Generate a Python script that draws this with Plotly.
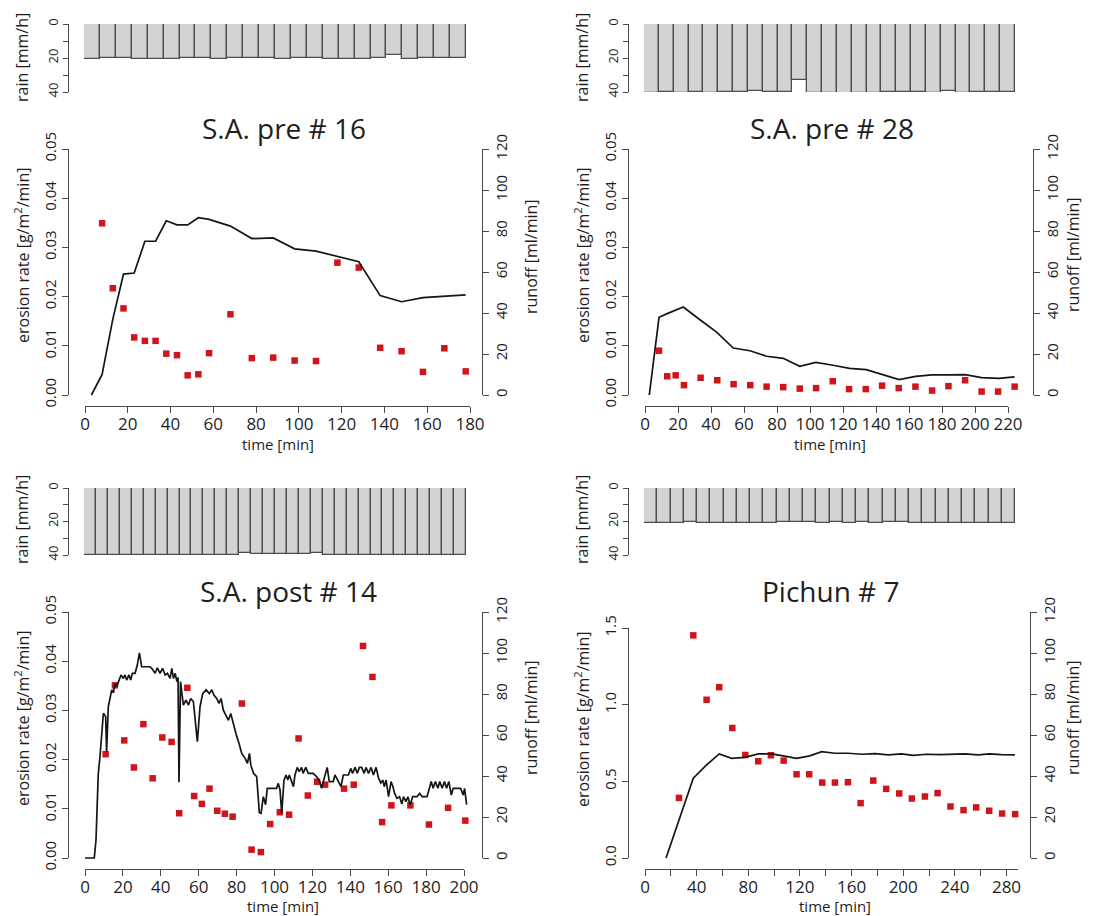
import plotly.graph_objects as go

W, H = 1097, 916

# ------------------------------------------------------------------ data
# Panel 1: S.A. pre # 16
p1_title = "S.A. pre # 16"
p1_rain = [20.4, 20.2, 20.2, 20.4, 20.4, 20.4, 20.2, 20.2, 20.4, 20.2, 20.2, 20.2,
           20.4, 20.2, 20.2, 20.4, 20.4, 20.4, 19.8, 18.2, 20.4, 20.2, 20.2, 20.2]
p1_run_t = [3, 8, 13, 18, 23, 28, 33, 38, 43, 48, 53, 58, 68, 78, 88, 98, 108, 118,
            128, 138, 148, 158, 168, 178]
p1_run = [0, 10, 37, 59, 59.5, 75, 75, 85, 83, 83, 86.5, 85.7, 82.4, 76.3, 76.6, 71.3,
          70.2, 67.5, 65, 48.5, 45.5, 47.5, 48, 48.8]
p1_ero_t = [8, 13, 18, 23, 28, 33, 38, 43, 48, 53, 58, 68, 78, 88, 98, 108, 118, 128,
            138, 148, 158, 168, 178]
p1_ero = [0.0349, 0.0217, 0.0176, 0.0117, 0.0110, 0.0110, 0.0084, 0.0081, 0.0040,
          0.0042, 0.0085, 0.0164, 0.0075, 0.0076, 0.0070, 0.0069, 0.0269, 0.0259,
          0.0096, 0.0089, 0.0047, 0.0095, 0.0048]

# Panel 2: S.A. pre # 28
p2_title = "S.A. pre # 28"
p2_rain = [40.6, 40.2, 40.4, 40.2, 40.4, 40.2, 39.8, 39.6, 40.2, 39.8, 32.9, 40.4, 40.4,
           41.2, 40.4, 40.4, 39.8, 39.8, 39.8, 40.4, 39.6, 40.6, 40.2, 40.2, 40.2]
p2_run_t = [2.6, 8.5, 13.5, 18.5, 23.2, 33.3, 43.4, 53.5, 63.6, 73.7, 83.8, 93.8, 103.5,
            114, 124, 134, 144, 154, 164, 174, 184, 194, 204, 214.5, 224]
p2_run = [0, 37.9, 39.7, 41.3, 42.9, 36.7, 30.7, 22.9, 21.6, 18.9, 17.9, 14, 15.9, 14.5,
          13, 12.4, 9.9, 7.5, 9.1, 9.8, 9.8, 9.9, 8.5, 8.1, 8.8]
p2_ero_t = [8.5, 13.5, 18.6, 23.6, 33.7, 43.8, 53.7, 63.8, 73.7, 83.8, 93.8, 103.7,
            113.8, 123.7, 133.8, 143.7, 153.8, 163.9, 174, 183.9, 194, 204, 214, 224]
p2_ero = [0.0090, 0.0038, 0.0040, 0.0020, 0.0035, 0.0030, 0.0022, 0.0020, 0.0017,
          0.0016, 0.0013, 0.0014, 0.0028, 0.0012, 0.0012, 0.0019, 0.0014, 0.0017,
          0.0009, 0.0018, 0.0030, 0.0007, 0.0007, 0.0017]

# Panel 3: S.A. post # 14
p3_title = "S.A. post # 14"
p3_rain = [40, 40, 40, 40, 40, 40, 40, 40, 40, 40, 40, 40, 40, 39, 39.4, 39.4, 39.4,
           39.4, 39.4, 38.6, 40.2, 40.2, 40.2, 40.2, 40.2, 40.2, 40.2, 39.8, 39.8, 39.8,
           39.8, 39.8]
p3_run_t = [0, 4.9, 5.8, 7, 7.9, 9.7, 10.9, 11.4, 12.3, 13.2, 14.1, 15, 15.8, 16.7, 18.1,
            19, 20.2, 21.1, 22, 23.2, 24.1, 25, 26.4, 27.6, 28.7, 29.9, 34.3, 35.2, 37,
            38.2, 39.6, 40.9, 42.3, 43.5, 44.9, 45.8, 46.7, 47.6, 48.5, 49.1, 49.6, 50.4,
            51.9, 53.3, 54.6, 55.8, 57.2, 58.1, 59.3, 60.7, 62.1, 63.9, 65.6, 66.9, 68.1,
            69.5, 70.7, 71.8, 73, 74.3, 75.7, 76.9, 78, 79.2, 80.1, 81.3, 82.7, 84.5,
            85.7, 86.8, 87.5, 88.9, 90.6, 92, 92.9, 94.1, 95.3, 96.2, 101.1, 102, 102.9,
            103.8, 105, 106.1, 107, 107.8, 109.1, 110, 110.8, 112, 113, 114.3, 115.1,
            116.5, 117.8, 120.4, 122.2, 123.9, 124.8, 125.7, 126.6, 127.8, 128.9, 131,
            131.9, 133.7, 135.1, 136.3, 139, 140.2, 141.2, 142.5, 143.7, 144.8, 146,
            147.3, 148.3, 149.6, 151, 152.2, 153.6, 154.9, 156.1, 157.2, 157.9, 158.9,
            160.2, 161.5, 162.5, 163.4, 164.6, 166, 167.2, 168.1, 169.4, 170.4, 171.6,
            172.9, 175.2, 176.6, 177.9, 180.5, 181.8, 182.7, 183.7, 184.9, 186.2, 187.2,
            188.5, 189.7, 190.8, 192, 193.3, 194.3, 198.2, 199.6, 200.3, 201.4]
p3_run = [0, 0, 8.8, 41, 49.4, 70.6, 69, 51.9, 73.8, 78.7, 82, 80.6, 85.2, 83.6, 87.6,
          89.3, 87.6, 89.3, 86.8, 89.3, 86.8, 90.1, 90.1, 94.1, 100.1, 93.3, 93.3, 92.5,
          90.1, 92.8, 90.1, 92.5, 89.3, 90.1, 87.6, 92.5, 87.6, 90.1, 86, 88, 36.9, 86,
          74.6, 77, 74.6, 77.8, 76.2, 68.9, 56.7, 73.8, 80.2, 82.1, 80.2, 82.1, 79.4,
          77.8, 75.4, 77.8, 72.1, 69.7, 67.2, 70.5, 66.4, 63.2, 59.2, 55.9, 51, 48.6,
          46.2, 51, 45.4, 41.3, 39.7, 22.1, 21.8, 29.9, 26, 34, 34, 36.4, 33.3, 21.8, 38,
          40.5, 38, 40.5, 36.4, 34.8, 40.5, 44.2, 42.1, 44.2, 41.3, 44.2, 41.3, 41.3,
          39.7, 37.3, 34, 37.3, 39.7, 44.2, 37.3, 37.3, 40.5, 37.3, 34.8, 40.5, 40.5,
          43.7, 41.3, 44.2, 41.3, 44.2, 44.2, 41.3, 44.2, 41.3, 44.2, 40.5, 44.2, 39,
          36.6, 38, 34.8, 38, 29.9, 37.3, 34.8, 31.5, 29.1, 29.9, 26.3, 29.9, 27.5, 29.9,
          25.8, 29.9, 29.9, 31.5, 29.9, 29.9, 34, 37.3, 34, 37.3, 34, 37.3, 34, 37.3, 34,
          37.3, 30.7, 34, 34, 30.7, 34, 26]
p3_ero_t = [10.9, 15.8, 20.7, 25.8, 30.8, 35.7, 40.8, 45.7, 49.7, 54, 57.6, 61.7, 65.7,
            69.8, 73.8, 77.9, 82.8, 87.9, 92.8, 97.7, 102.8, 107.7, 112.7, 117.6, 122.5,
            126.7, 136.7, 141.8, 146.7, 151.7, 156.8, 161.7, 171.7, 181.5, 191.6, 200.7]
p3_ero = [0.0211, 0.0351, 0.0239, 0.0184, 0.0272, 0.0162, 0.0245, 0.0236, 0.0091,
          0.0346, 0.0126, 0.0110, 0.0141, 0.0096, 0.0090, 0.0084, 0.0314, 0.0017,
          0.0012, 0.0069, 0.0093, 0.0088, 0.0243, 0.0127, 0.0155, 0.0149, 0.0141,
          0.0149, 0.0431, 0.0368, 0.0073, 0.0107, 0.0107, 0.0068, 0.0102, 0.0076]

# Panel 4: Pichun # 7
p4_title = "Pichun # 7"
p4_rain = [21, 21, 21, 20.2, 21, 21, 21, 21, 21, 21, 20.4, 20.4, 20.4, 21, 20.2, 21,
           20.2, 21, 20.2, 20.2, 21, 21, 21, 21, 21, 21, 21, 21]
p4_run_t = [16.3, 26.3, 37.4, 47.7, 57.5, 67.1, 77.4, 87.7, 98, 107, 117.4, 127.7,
            136.8, 147, 157.4, 167.7, 178, 188.4, 198.7, 207.7, 218, 228.4, 238.7,
            247.7, 258, 267, 276, 286.5]
p4_run = [0, 18.6, 38.9, 45.4, 50.8, 48.6, 49.1, 50.8, 50.8, 49.8, 48.6, 49.8, 51.9,
          51.1, 51.1, 50.6, 50.9, 50.3, 50.8, 50.1, 50.6, 50.4, 50.6, 50.8, 50.3, 50.8,
          50.4, 50.3]
p4_ero_t = [26.3, 37.4, 47.7, 57.5, 67.6, 77.7, 87.7, 97.5, 107.4, 117.4, 127.2, 137.3,
            147.1, 157.2, 167, 176.8, 186.8, 196.9, 206.7, 216.8, 226.6, 236.6, 246.7,
            256.5, 266.6, 276.6, 286.7]
p4_ero = [0.392, 1.452, 1.032, 1.114, 0.848, 0.672, 0.631, 0.670, 0.635, 0.546, 0.546,
          0.492, 0.492, 0.494, 0.358, 0.505, 0.451, 0.421, 0.388, 0.401, 0.423, 0.336,
          0.312, 0.330, 0.308, 0.290, 0.286]

# tick labels
ticks_ero_small = [0, 0.01, 0.02, 0.03, 0.04, 0.05]
ticks_ero_small_txt = ["0.00", "0.01", "0.02", "0.03", "0.04", "0.05"]
ticks_ero_big = [0, 0.5, 1.0, 1.5]
ticks_ero_big_txt = ["0.0", "0.5", "1.0", "1.5"]
ticks_run = [0, 20, 40, 60, 80, 100, 120]
ticks_rain = [0, 20, 40]
ticks_rain_minor = [10, 30]
ticks_time_p1 = list(range(0, 181, 20))
ticks_time_p2 = list(range(0, 221, 20))
ticks_time_p3 = list(range(0, 201, 20))
ticks_time_p4 = list(range(0, 281, 40))
ticks_time_p4_minor = list(range(20, 281, 40))

# ------------------------------------------------------------------ layout geometry (pixels)
panels = [
    dict(title=p1_title, rain=p1_rain, run_t=p1_run_t, run=p1_run, ero_t=p1_ero_t, ero=p1_ero,
         bar_x=(84, 466), rain_y=(24, 92), left=68, right=482, t0=85, tend_px=470, tend=180,
         axis_end=180, xaxis_y=406, xticks=ticks_time_p1, xminor=[],
         e0=395, etop=149, emax=0.05, eticks=ticks_ero_small, etxt=ticks_ero_small_txt,
         r0=395, rtop=149, dtop=138, dbot=404,
         title_xy=(284, 128), time_xy=(278, 444), ero_xy=(22, 256), run_xy=(531, 257),
         rain_xy=(22, 58)),
    dict(title=p2_title, rain=p2_rain, run_t=p2_run_t, run=p2_run, ero_t=p2_ero_t, ero=p2_ero,
         bar_x=(644, 1015), rain_y=(24, 92), left=628, right=1033, t0=645, tend_px=1008, tend=220,
         axis_end=220, xaxis_y=406, xticks=ticks_time_p2, xminor=[],
         e0=395, etop=149, emax=0.05, eticks=ticks_ero_small, etxt=ticks_ero_small_txt,
         r0=395, rtop=149, dtop=138, dbot=404,
         title_xy=(832, 128), time_xy=(830, 444), ero_xy=(582, 256), run_xy=(1073, 255),
         rain_xy=(582, 58)),
    dict(title=p3_title, rain=p3_rain, run_t=p3_run_t, run=p3_run, ero_t=p3_ero_t, ero=p3_ero,
         bar_x=(84, 466), rain_y=(488, 555), left=68, right=482, t0=85, tend_px=464, tend=200,
         axis_end=200, xaxis_y=869, xticks=ticks_time_p3, xminor=[],
         e0=858, etop=612, emax=0.05, eticks=ticks_ero_small, etxt=ticks_ero_small_txt,
         r0=858, rtop=612, dtop=602, dbot=866,
         title_xy=(288, 591), time_xy=(283, 906), ero_xy=(22, 719), run_xy=(531, 718),
         rain_xy=(22, 520)),
    dict(title=p4_title, rain=p4_rain, run_t=p4_run_t, run=p4_run, ero_t=p4_ero_t, ero=p4_ero,
         bar_x=(644, 1015), rain_y=(488, 555), left=628, right=1030, t0=645, tend_px=1006.5, tend=280,
         axis_end=289, xaxis_y=869, xticks=ticks_time_p4, xminor=ticks_time_p4_minor,
         e0=858, etop=628, emax=1.5, eticks=ticks_ero_big, etxt=ticks_ero_big_txt,
         r0=858, rtop=612, dtop=602, dbot=866,
         title_xy=(830, 591), time_xy=(835, 906), ero_xy=(582, 720), run_xy=(1073, 718),
         rain_xy=(582, 520)),
]

FONT = "Open Sans"
TXT = "#1e1e1e"
AX = "#4a4a4a"
RED = "#d0141c"


def xdom(a, b):
    return [a / W, b / W]


def ydom(top, bot):
    return [1 - bot / H, 1 - top / H]


fig = go.Figure()
layout = {}
annotations = []
nx = [0]
ny = [0]


def new_x(spec):
    nx[0] += 1
    spec.setdefault("automargin", False)
    name = "xaxis" if nx[0] == 1 else f"xaxis{nx[0]}"
    layout[name] = spec
    return "x" if nx[0] == 1 else f"x{nx[0]}"


def new_y(spec):
    ny[0] += 1
    spec.setdefault("automargin", False)
    name = "yaxis" if ny[0] == 1 else f"yaxis{ny[0]}"
    layout[name] = spec
    return "y" if ny[0] == 1 else f"y{ny[0]}"


def axis_common():
    return dict(showline=True, linecolor=AX, linewidth=1.2, ticks="outside", ticklen=6,
                tickwidth=1.2, tickcolor=AX, showgrid=False, zeroline=False,
                fixedrange=True)


def ann(text, xy, size, angle=0):
    annotations.append(dict(text=text, x=xy[0] / W, y=1 - xy[1] / H, xref="paper",
                            yref="paper", xanchor="center", yanchor="middle",
                            showarrow=False, textangle=angle,
                            font=dict(family=FONT, size=size, color=TXT)))


for p in panels:
    # ---- rain bars
    n = len(p["rain"])
    xr = new_x(dict(domain=xdom(*p["bar_x"]), range=[-0.5, n - 0.5], visible=False,
                    anchor="free", position=0))
    yr_spec = axis_common()
    yr_spec.update(domain=ydom(*p["rain_y"]), range=[40, 0], anchor="free",
                   position=p["left"] / W, tickvals=ticks_rain,
                   ticktext=[str(v) for v in ticks_rain], tickangle=-90, ticklen=5,
                   minor=dict(tickvals=ticks_rain_minor, ticks="outside", ticklen=5,
                              tickwidth=1.2, tickcolor=AX, showgrid=False),
                   tickfont=dict(family=FONT, size=13, color=TXT))
    yr = new_y(yr_spec)
    fig.add_trace(go.Bar(x=list(range(n)), y=p["rain"], width=1, xaxis=xr, yaxis=yr,
                         marker=dict(color="#d3d3d3", line=dict(color="#4d4d4d", width=1.3)),
                         cliponaxis=False, showlegend=False, hoverinfo="skip"))

    # ---- hidden data axes
    s = (p["tend_px"] - p["t0"]) / p["tend"]
    xd = new_x(dict(domain=xdom(p["left"], p["right"]),
                    range=[(p["left"] - p["t0"]) / s, (p["right"] - p["t0"]) / s],
                    visible=False, anchor="free", position=0))
    es = (p["e0"] - p["etop"]) / p["emax"]
    yde = new_y(dict(domain=ydom(p["dtop"], p["dbot"]),
                     range=[(p["e0"] - p["dbot"]) / es, (p["e0"] - p["dtop"]) / es],
                     visible=False, anchor="free", position=0))
    rs = (p["r0"] - p["rtop"]) / 120
    ydr = new_y(dict(domain=ydom(p["dtop"], p["dbot"]),
                     range=[(p["r0"] - p["dbot"]) / rs, (p["r0"] - p["dtop"]) / rs],
                     visible=False, anchor="free", position=0))
    fig.add_trace(go.Scatter(x=p["run_t"], y=p["run"], mode="lines", xaxis=xd, yaxis=ydr,
                             line=dict(color="#151515", width=1.7), showlegend=False,
                             hoverinfo="skip"))
    fig.add_trace(go.Scatter(x=p["ero_t"], y=p["ero"], mode="markers", xaxis=xd, yaxis=yde,
                             marker=dict(symbol="square", size=6.5, color=RED, line=dict(width=0)),
                             cliponaxis=False, showlegend=False, hoverinfo="skip"))

    # ---- visible decoration axes
    xv_spec = axis_common()
    xv_spec.update(domain=xdom(p["t0"], p["t0"] + p["axis_end"] * s), range=[0, p["axis_end"]],
                   anchor="free", position=1 - p["xaxis_y"] / H, tickvals=p["xticks"],
                   ticktext=[str(v) for v in p["xticks"]], ticklabelstandoff=-4,
                   tickfont=dict(family=FONT, size=17, color=TXT))
    if p["xminor"]:
        xv_spec["minor"] = dict(tickvals=p["xminor"], ticks="outside", ticklen=6,
                                tickwidth=1.2, tickcolor=AX, showgrid=False)
    xv = new_x(xv_spec)
    ye_spec = axis_common()
    ye_spec.update(domain=ydom(p["etop"], p["e0"]), range=[0, p["emax"]], anchor="free",
                   position=p["left"] / W, tickvals=p["eticks"], ticktext=p["etxt"],
                   tickangle=-90, tickfont=dict(family=FONT, size=15, color=TXT))
    ye = new_y(ye_spec)
    yv_spec = axis_common()
    yv_spec.update(domain=ydom(p["rtop"], p["r0"]), range=[0, 120], anchor="free",
                   side="right", position=p["right"] / W, tickvals=ticks_run,
                   ticktext=[str(v) for v in ticks_run], tickangle=-90,
                   tickfont=dict(family=FONT, size=15, color=TXT))
    yv = new_y(yv_spec)
    fig.add_trace(go.Scatter(x=[], y=[], xaxis=xv, yaxis=ye, showlegend=False, hoverinfo="skip"))
    fig.add_trace(go.Scatter(x=[], y=[], xaxis=xv, yaxis=yv, showlegend=False, hoverinfo="skip"))

    # ---- texts
    ann(p["title"], p["title_xy"], 28)
    ann("time [min]", p["time_xy"], 15)
    ann("erosion rate [g/m<sup>2</sup>/min]", p["ero_xy"], 16, -90)
    ann("runoff [ml/min]", p["run_xy"], 16, -90)
    ann("rain [mm/h]", p["rain_xy"], 16, -90)

layout.update(template="none", width=W, height=H, margin=dict(l=0, r=0, t=0, b=0, pad=0,
              autoexpand=False), paper_bgcolor="white", plot_bgcolor="rgba(0,0,0,0)",
              showlegend=False, annotations=annotations,
              font=dict(family=FONT, color=TXT), bargap=0)
fig.update_layout(**layout)
fig.write_html("out.html")
